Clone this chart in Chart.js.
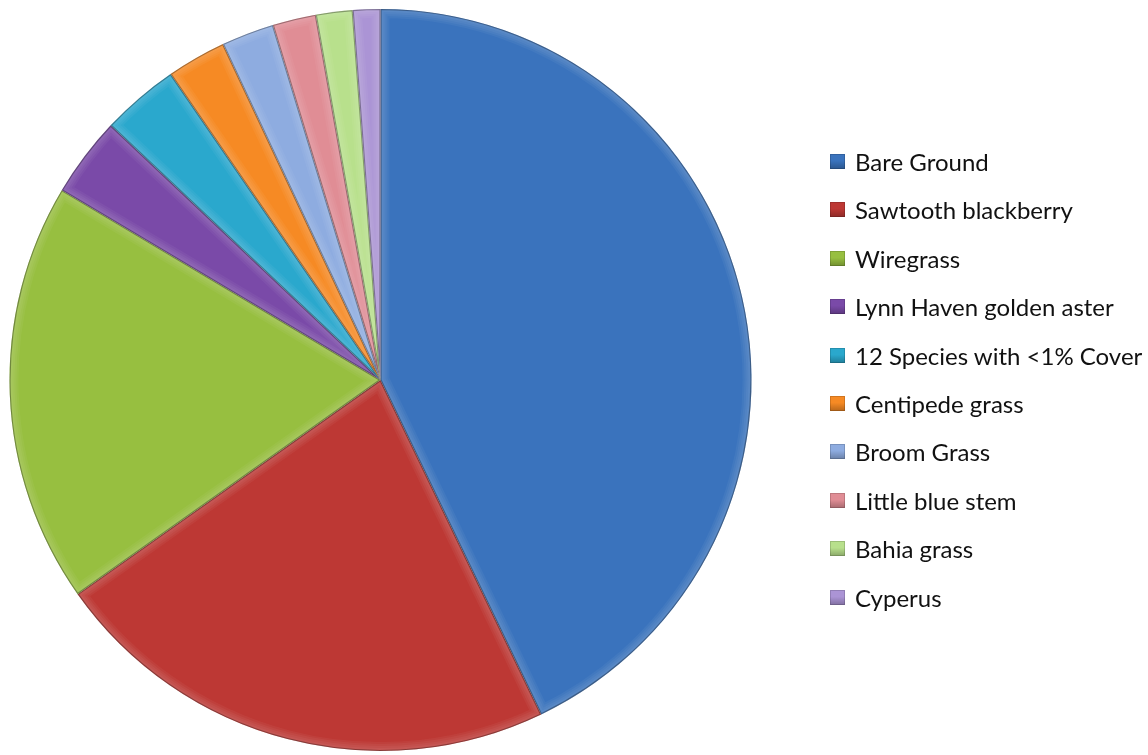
<!DOCTYPE html>
<html>
<head>
<meta charset="utf-8">
<script src="https://cdn.jsdelivr.net/npm/chart.js@4"></script>
<style>
  body { margin: 0; background: #fff; }
  #wrap { position: relative; width: 1148px; height: 755px; }
  #leyenda { position: absolute; left: 830px; top: 0; font-family: Lato, sans-serif; font-size: 24px; color: #111; }
  .item { position: absolute; left: 0; white-space: nowrap; height: 30px; line-height: 30px; }
  .caja { position: absolute; left: 0; top: 7px; width: 15px; height: 15px; }
  .texto { position: absolute; left: 25px; top: 0; }
</style>
</head>
<body>
<div id="wrap">
  <canvas id="grafico" width="1148" height="755"></canvas>
  <div id="leyenda"></div>
</div>
<script>
// Categorías y porcentajes de cobertura
const categorias = ['Bare Ground', 'Sawtooth blackberry', 'Wiregrass', 'Lynn Haven golden aster',
  '12 Species with <1% Cover', 'Centipede grass', 'Broom Grass', 'Little blue stem', 'Bahia grass', 'Cyperus'];
const cobertura = [43.0, 22.4, 18.4, 3.5, 3.4, 2.6, 2.3, 1.9, 1.6, 1.2];
const colores = ['#3a73bd', '#bd3834', '#97bf40', '#7a4aa8', '#2aa8cd',
  '#f68a24', '#8eace0', '#e08d95', '#b8e08c', '#ab94d5'];

// Efecto de bisel: brillo suave hacia dentro y borde oscuro fino en cada porción
const bisel = {
  id: 'bisel',
  afterDatasetsDraw(chart) {
    const ctx = chart.ctx;
    chart.getDatasetMeta(0).data.forEach(arc => {
      const p = arc.getProps(['x', 'y', 'startAngle', 'endAngle', 'outerRadius']);
      ctx.save();
      ctx.beginPath();
      ctx.moveTo(p.x, p.y);
      ctx.arc(p.x, p.y, p.outerRadius, p.startAngle, p.endAngle);
      ctx.closePath();
      ctx.clip();
      ctx.lineJoin = 'round';
      [18, 14, 10, 6].forEach(w => {
        ctx.lineWidth = w;
        ctx.strokeStyle = 'rgba(255,255,255,0.045)';
        ctx.stroke();
      });
      ctx.lineWidth = 2.2;
      ctx.strokeStyle = 'rgba(0,0,0,0.32)';
      ctx.stroke();
      ctx.restore();
    });
  }
};

new Chart(document.getElementById('grafico'), {
  type: 'pie',
  data: {
    labels: categorias,
    datasets: [{
      data: cobertura,
      backgroundColor: colores,
      borderWidth: 0,
      offset: 0,
      hoverOffset: 0
    }]
  },
  options: {
    responsive: false,
    animation: false,
    layout: { padding: { left: 9, top: 9, right: 396, bottom: 4 } },
    plugins: { legend: { display: false }, tooltip: { enabled: false } }
  },
  plugins: [bisel]
});

// Leyenda a la derecha, una fila por categoría
const leyenda = document.getElementById('leyenda');
const primeraFila = 162, pasoFila = 48.4;
categorias.forEach((nombre, i) => {
  const fila = document.createElement('div');
  fila.className = 'item';
  fila.style.top = (primeraFila + i * pasoFila - 15) + 'px';
  const caja = document.createElement('span');
  caja.className = 'caja';
  caja.style.background = `linear-gradient(to bottom, ${colores[i]}, ${colores[i]} 45%, rgba(0,0,0,0.25)), ${colores[i]}`;
  caja.style.boxShadow = 'inset 0 0 0 1px rgba(0,0,0,0.15)';
  const texto = document.createElement('span');
  texto.className = 'texto';
  texto.textContent = nombre;
  fila.appendChild(caja);
  fila.appendChild(texto);
  leyenda.appendChild(fila);
});
</script>
</body>
</html>
